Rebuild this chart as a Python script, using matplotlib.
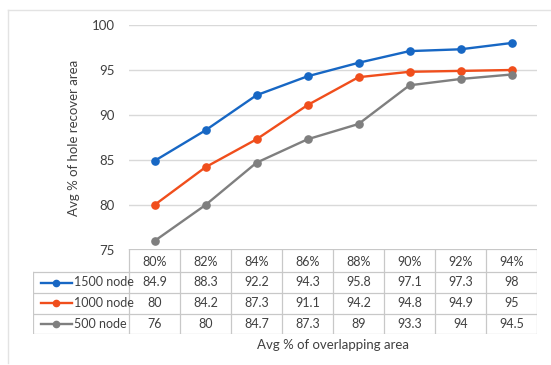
import matplotlib

matplotlib.use("Agg")
import matplotlib.pyplot as plt
from matplotlib.lines import Line2D

plt.rcParams["font.family"] = ["Lato", "DejaVu Sans"]

OVERLAP = ["80%", "82%", "84%", "86%", "88%", "90%", "92%", "94%"]
SERIES_NAMES = ["1500 node", "1000 node", "500 node"]
NODE_1500 = [84.9, 88.3, 92.2, 94.3, 95.8, 97.1, 97.3, 98]
NODE_1000 = [80, 84.2, 87.3, 91.1, 94.2, 94.8, 94.9, 95]
NODE_500 = [76, 80, 84.7, 87.3, 89, 93.3, 94, 94.5]
COLORS = ["#1767C4", "#F04E1C", "#7F7F7F"]

W, H = 551, 365
GRID = "#D9D9D9"
TABLE_LINE = "#C8C8C8"
TEXT = "#404040"


def fx(px):
    return px / W


def fy(py):
    return 1 - py / H


fig = plt.figure(figsize=(W / 100, H / 100), dpi=100)

# chart frame (top and left edges only)
fig.add_artist(Line2D([fx(8), fx(8)], [fy(10), fy(363)], color="#E3E3E3", lw=1.0))
fig.add_artist(Line2D([fx(8), 1.0], [fy(10), fy(10)], color="#E3E3E3", lw=1.0))

# plot area
left, right = 129, 537
ax = fig.add_axes([fx(left), fy(250), fx(right - left), fy(25) - fy(250)])
xs = list(range(len(OVERLAP)))
all_series = [NODE_1500, NODE_1000, NODE_500]
for values, color in zip(all_series, COLORS):
    ax.plot(xs, values, color=color, lw=1.7, marker="o", ms=5.2, zorder=3)

ax.set_xlim(-0.5, len(OVERLAP) - 0.5)
ax.set_ylim(75, 100)
ax.set_yticks([75, 80, 85, 90, 95, 100])
ax.set_xticks([])
ax.grid(axis="y", color=GRID, lw=1.0)
ax.set_axisbelow(True)
for side in ["top", "right", "left", "bottom"]:
    ax.spines[side].set_visible(False)
ax.tick_params(axis="y", length=0, pad=10, labelsize=9.5, labelcolor=TEXT)
ax.set_ylabel("Avg % of hole recover area", fontsize=9.5, color=TEXT, labelpad=9)

# data table beneath the plot
col_w = (right - left) / len(OVERLAP)
label_w = (left - 33) / col_w
tab = fig.add_axes([fx(33), fy(334), fx(right - 33), fy(249) - fy(334)])
tab.set_xlim(-0.5 - label_w, len(OVERLAP) - 0.5)
tab.set_ylim(85, 0)
tab.axis("off")

row_edges = [0, 23, 44, 64.5, 85]
x_first = -0.5
x_left = -0.5 - label_w
x_end = len(OVERLAP) - 0.5

# horizontal rules
tab.plot([x_first, x_end], [row_edges[0], row_edges[0]], color=TABLE_LINE, lw=0.9)
for y in row_edges[1:]:
    tab.plot([x_left, x_end], [y, y], color=TABLE_LINE, lw=0.9)
# vertical rules
for i in range(len(OVERLAP) + 1):
    x = -0.5 + i
    tab.plot([x, x], [row_edges[0], row_edges[-1]], color=TABLE_LINE, lw=0.9)
tab.plot([x_left, x_left], [row_edges[1], row_edges[-1]], color=TABLE_LINE, lw=0.9)

for i, label in enumerate(OVERLAP):
    tab.text(i, (row_edges[0] + row_edges[1]) / 2 + 1, label, ha="center",
             va="center", fontsize=9, color=TEXT)

for r, (name, values, color) in enumerate(zip(SERIES_NAMES, all_series, COLORS)):
    yc = (row_edges[r + 1] + row_edges[r + 2]) / 2
    for i, v in enumerate(values):
        tab.text(i, yc, f"{v:g}", ha="center", va="center", fontsize=9, color=TEXT)
    key_x0 = x_left + 0.15
    key_x1 = key_x0 + 0.62
    tab.plot([key_x0, key_x1], [yc, yc], color=color, lw=1.7)
    tab.plot([(key_x0 + key_x1) / 2], [yc], color=color, marker="o", ms=4.5)
    tab.text(key_x1 + 0.03, yc, name, ha="left", va="center", fontsize=9,
             color=TEXT)

fig.text(fx(333), fy(345), "Avg % of overlapping area", ha="center", va="center",
         fontsize=9.5, color=TEXT)

fig.savefig("out.png", dpi=100)
